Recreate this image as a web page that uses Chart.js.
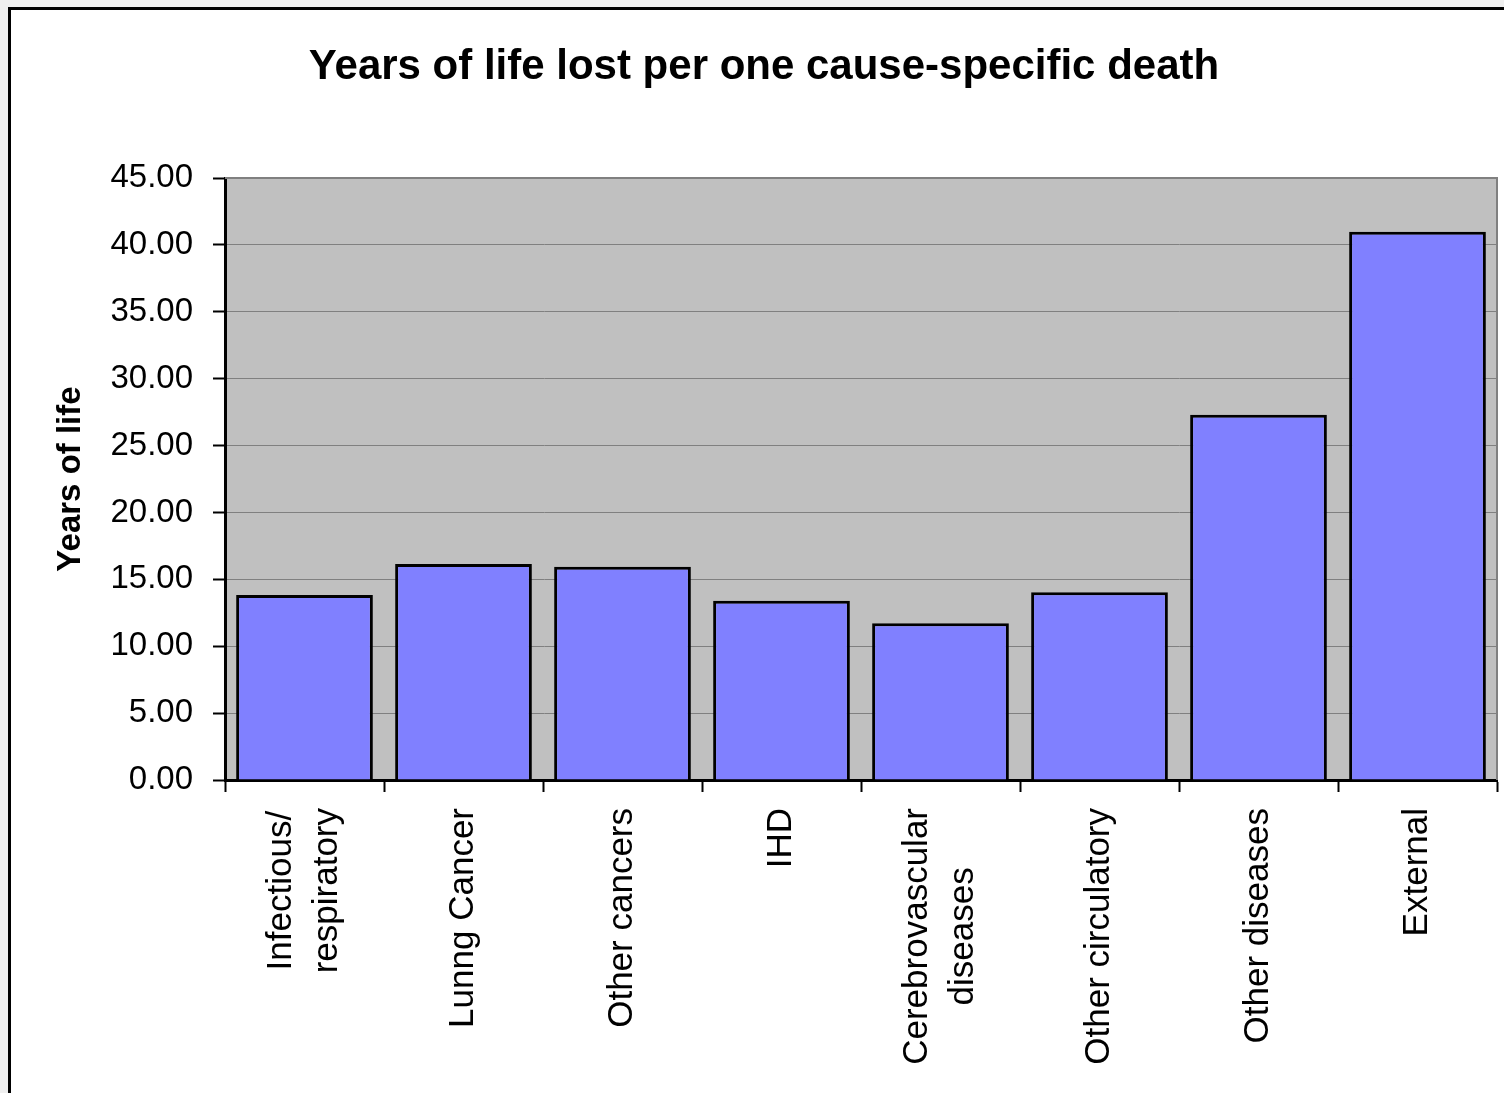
<!DOCTYPE html>
<html>
<head>
<meta charset="utf-8">
<title>Years of life lost per one cause-specific death</title>
<script src="https://cdn.jsdelivr.net/npm/chart.js@4.4.1/dist/chart.umd.min.js"></script>
<style>
  html, body { margin: 0; padding: 0; background: #efefef; overflow: hidden; }
  #frame {
    position: absolute; left: 8px; top: 7px; width: 1540px; height: 1120px;
    background: #ffffff; border-left: 3px solid #000; border-top: 3px solid #000;
  }
  #chart { position: absolute; left: 0; top: 0; }
</style>
</head>
<body>
<div id="frame"></div>
<canvas id="chart" width="1504" height="1093"></canvas>
<script>
// Cause-of-death categories (multi-line labels are arrays of lines)
const categories = [
  ['Infectious/', 'respiratory'],
  ['Lunng Cancer'],
  ['Other cancers'],
  ['IHD'],
  ['Cerebrovascular', 'diseases'],
  ['Other circulatory'],
  ['Other diseases'],
  ['External']
];

// Years of life lost per death, by cause
const yearsLost = [13.83, 16.15, 15.94, 13.40, 11.71, 14.03, 27.31, 40.99];

// Value axis ticks
const yMin = 0;
const yMax = 45;
const yStep = 5;

const chartTitle = 'Years of life lost per one cause-specific death';
const yAxisTitle = 'Years of life';

const FONT = "'Liberation Sans', Arial, Helvetica, sans-serif";
Chart.defaults.font.family = FONT;
Chart.defaults.color = '#000';

// Grey plot background plus the grey frame on the top and right of the plot
const plotArea = {
  id: 'plotArea',
  beforeDraw(chart) {
    const { ctx, chartArea: a } = chart;
    ctx.save();
    ctx.fillStyle = '#c0c0c0';
    ctx.fillRect(a.left, a.top, a.right - a.left, a.bottom - a.top);
    ctx.restore();
  },
  afterDatasetsDraw(chart) {
    const { ctx, chartArea: a } = chart;
    ctx.save();
    ctx.strokeStyle = '#808080';
    ctx.lineWidth = 2;
    ctx.beginPath();
    ctx.moveTo(a.left, a.top);
    ctx.lineTo(a.right, a.top);
    ctx.lineTo(a.right, a.bottom);
    ctx.stroke();
    ctx.restore();
  }
};

// Vertical category labels: each block ends just below the axis,
// lines centred against each other
const verticalLabels = {
  id: 'verticalLabels',
  afterDraw(chart) {
    const { ctx } = chart;
    const xs = chart.scales.x;
    const size = 35, lh = 46;
    ctx.save();
    ctx.font = size + 'px ' + FONT;
    ctx.fillStyle = '#000';
    ctx.textBaseline = 'middle';
    ctx.textAlign = 'center';
    categories.forEach((lines, i) => {
      const cx = xs.getPixelForValue(i);
      const top = xs.top + 28;
      const w = Math.max(...lines.map(l => ctx.measureText(l).width));
      ctx.save();
      ctx.translate(cx, top);
      ctx.rotate(-Math.PI / 2);
      lines.forEach((line, j) => {
        const off = (j - (lines.length - 1) / 2) * lh;
        ctx.fillText(line, -w / 2, off);
      });
      ctx.restore();
    });
    ctx.restore();
  }
};

new Chart(document.getElementById('chart'), {
  type: 'bar',
  data: {
    labels: categories.map(c => c.join(' ')),
    datasets: [{
      data: yearsLost,
      backgroundColor: '#8080ff',
      borderColor: '#000000',
      borderWidth: 3,
      barPercentage: 0.86,
      categoryPercentage: 1.0
    }]
  },
  options: {
    responsive: false,
    animation: false,
    devicePixelRatio: 1,
    layout: { padding: { left: 31, right: 7, top: 0, bottom: 0 } },
    plugins: {
      legend: { display: false },
      tooltip: { enabled: false },
      title: {
        display: true,
        text: chartTitle,
        color: '#000',
        font: { size: 42, weight: 'bold', family: FONT, lineHeight: 1.2 },
        padding: { top: 42, bottom: 85.6 }
      }
    },
    scales: {
      x: {
        offset: true,
        grid: {
          display: true,
          offset: true,
          drawOnChartArea: false,
          drawTicks: true,
          tickLength: 12,
          tickColor: '#000',
          tickWidth: 2
        },
        border: { display: true, color: '#000', width: 3 },
        ticks: { display: false, autoSkip: false },
        afterFit(scale) { scale.height = 313; }
      },
      y: {
        min: yMin,
        max: yMax,
        grid: {
          color: '#808080',
          lineWidth: 1,
          drawTicks: true,
          tickLength: 12,
          tickColor: '#000',
          tickWidth: 2
        },
        border: { display: true, color: '#000', width: 3 },
        ticks: {
          stepSize: yStep,
          padding: 20,
          color: '#000',
          font: { size: 33, family: FONT },
          callback: v => Number(v).toFixed(2)
        },
        title: {
          display: true,
          text: yAxisTitle,
          color: '#000',
          font: { size: 33, weight: 'bold', family: FONT, lineHeight: 1.2 },
          padding: { top: 20, bottom: 0 }
        },
        afterFit(scale) { scale.width = 194; }
      }
    }
  },
  plugins: [plotArea, verticalLabels]
});
</script>
</body>
</html>
